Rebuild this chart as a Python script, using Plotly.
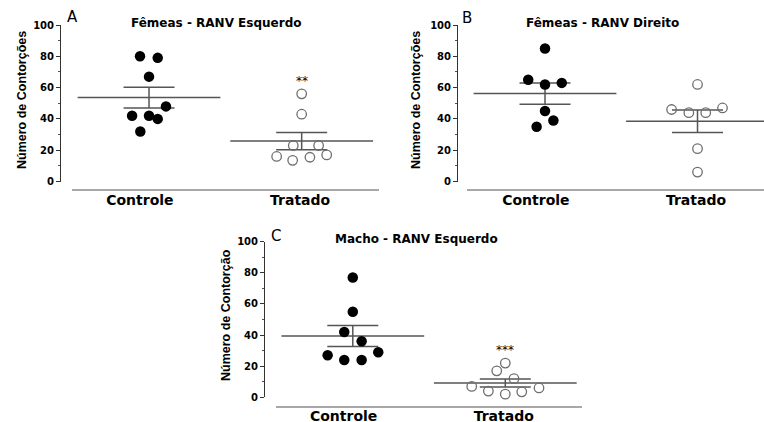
import plotly.graph_objects as go

W, H = 764, 422

categories = ["Controle", "Tratado"]
panel_titles = ["Fêmeas - RANV Esquerdo", "Fêmeas - RANV Direito", "Macho - RANV Esquerdo"]
panel_letters = ["A", "B", "C"]
y_titles = ["Número de Contorções", "Número de Contorções", "Número de Contorção"]
y_ticks = [0, 20, 40, 60, 80, 100]

# Panel A
a_ctrl = [80, 79, 67, 48, 42, 42, 40, 32]
a_trat = [56, 43, 23, 23, 16, 13.5, 15.5, 17]
a_mean = [53.6, 25.8]
a_sem = [6.65, 5.45]
a_sig = ["", "**"]
# Panel B
b_ctrl = [85, 65, 62, 63, 45, 39, 35]
b_trat = [62, 46, 44, 44, 47, 21, 6]
b_mean = [56.2, 38.5]
b_sem = [6.8, 7.15]
b_sig = ["", ""]
# Panel C
c_ctrl = [77, 55, 42, 36, 29, 27, 24, 24]
c_trat = [22, 17, 12, 7, 4, 2, 3.5, 6]
c_mean = [39.4, 9.2]
c_sem = [6.75, 2.6]
c_sig = ["", "***"]

# horizontal scatter (jitter) offsets, in category units
a_ctrl_dx = [-0.059, 0.057, 0, 0.111, -0.111, 0, 0.057, -0.057]
a_trat_dx = [0, 0, -0.055, 0.111, -0.164, -0.059, 0.054, 0.164]
b_ctrl_dx = [0, -0.11, 0, 0.11, 0, 0.055, -0.055]
b_trat_dx = [0, -0.17, -0.057, 0.054, 0.164, 0, 0]
c_ctrl_dx = [0, 0, -0.056, 0.058, 0.167, -0.165, -0.056, 0.058]
c_trat_dx = [0, -0.056, 0.057, -0.22, -0.111, 0, 0.108, 0.221]

panels = [
    dict(ctrl=a_ctrl, trat=a_trat, cdx=a_ctrl_dx, tdx=a_trat_dx, mean=a_mean, sem=a_sem, sig=a_sig,
         xdom=[72, 379], xr=[0.4954, 2.5066], ypx=[181.5, 25], yax=60, base=189.5, standoff=-2,
         title=(216, 23), letter=(72, 17.5), ytitle=(22, 100)),
    dict(ctrl=b_ctrl, trat=b_trat, cdx=b_ctrl_dx, tdx=b_trat_dx, mean=b_mean, sem=b_sem, sig=b_sig,
         xdom=[467, 764], xr=[0.4885, 2.436], ypx=[181.5, 25], yax=457, base=189.5, standoff=-2,
         title=(602, 23.5), letter=(467, 18), ytitle=(416, 100)),
    dict(ctrl=c_ctrl, trat=c_trat, cdx=c_ctrl_dx, tdx=c_trat_dx, mean=c_mean, sem=c_sem, sig=c_sig,
         xdom=[276, 582], xr=[0.4964, 2.503], ypx=[397.3, 241.7], yax=264, base=406.7, standoff=-4,
         title=(416, 239.5), letter=(276, 236), ytitle=(226, 315)),
]

LINE = "#555555"
fig = go.Figure()
annotations = []
layout = {}

for i, p in enumerate(panels):
    n = "" if i == 0 else str(i + 1)
    xa, ya = "x" + n, "y" + n
    # mean + SEM
    fig.add_trace(go.Scatter(
        x=[1, 2], y=p["mean"], xaxis=xa, yaxis=ya, mode="markers",
        marker=dict(symbol="line-ew", size=102, color=LINE, line=dict(width=1.5, color=LINE)),
        error_y=dict(type="data", array=p["sem"], visible=True, width=25.5, thickness=1.5, color=LINE),
        cliponaxis=False, hoverinfo="skip"))
    # controle points
    fig.add_trace(go.Scatter(
        x=[1 + d for d in p["cdx"]], y=p["ctrl"], xaxis=xa, yaxis=ya, mode="markers",
        marker=dict(symbol="circle", size=10.5, color="black", line=dict(width=0)),
        cliponaxis=False))
    # tratado points
    fig.add_trace(go.Scatter(
        x=[2 + d for d in p["tdx"]], y=p["trat"], xaxis=xa, yaxis=ya, mode="markers",
        marker=dict(symbol="circle", size=9.5, color="rgba(0,0,0,0)", line=dict(width=1.3, color="#6e6e6e")),
        cliponaxis=False))
    # significance
    groups = [p["ctrl"], p["trat"]]
    for k, s in enumerate(p["sig"]):
        if s:
            annotations.append(dict(x=k + 1, y=max(groups[k]), xref=xa, yref=ya, text=s, showarrow=False,
                                    yshift=12.6, yanchor="middle",
                                    font=dict(family="DejaVu Sans", size=12, color="black")))
    layout["xaxis" + n] = dict(
        domain=[p["xdom"][0] / W, p["xdom"][1] / W], range=p["xr"], anchor="free",
        position=1 - p["base"] / H, showline=True, linecolor="#a8a8a8", linewidth=2,
        ticks="", tickvals=[0.94, 1.99], ticktext=categories, ticklabelstandoff=p["standoff"],
        tickfont=dict(family="DejaVu Sans", size=14, color="black", weight="bold"),
        showgrid=False, zeroline=False, fixedrange=True, automargin=False)
    layout["yaxis" + n] = dict(
        domain=[1 - p["ypx"][0] / H, 1 - p["ypx"][1] / H], range=[0, 100], anchor="free",
        position=p["yax"] / W, showline=True, linecolor="#333", linewidth=1,
        tickvals=y_ticks, ticks="outside", ticklen=4, tickwidth=1, tickcolor="#333",
        minor=dict(dtick=10, ticks="outside", ticklen=2.5, tickcolor="#555", showgrid=False),
        tickfont=dict(family="DejaVu Sans", size=10, color="black", weight="bold"),
        showgrid=False, zeroline=False, fixedrange=True, automargin=False)
    annotations.append(dict(x=p["title"][0] / W, y=1 - p["title"][1] / H, xref="paper", yref="paper",
                            text=panel_titles[i], showarrow=False, xanchor="center", yanchor="middle",
                            font=dict(family="DejaVu Sans", size=12, color="black", weight="bold")))
    annotations.append(dict(x=p["letter"][0] / W, y=1 - p["letter"][1] / H, xref="paper", yref="paper",
                            text=panel_letters[i], showarrow=False, xanchor="center", yanchor="middle",
                            font=dict(family="DejaVu Sans", size=15, color="black")))
    annotations.append(dict(x=p["ytitle"][0] / W, y=1 - p["ytitle"][1] / H, xref="paper", yref="paper",
                            text=y_titles[i], showarrow=False, xanchor="center", yanchor="middle",
                            textangle=-90,
                            font=dict(family="Liberation Sans", size=12.5, color="black", weight="bold")))

fig.update_layout(width=W, height=H, margin=dict(l=0, r=0, t=0, b=0, autoexpand=False),
                  paper_bgcolor="white", plot_bgcolor="white", showlegend=False,
                  annotations=annotations, **layout)
fig.write_html("out.html", config={"displayModeBar": False},
               post_script="document.body.style.margin='0';document.body.style.overflow='hidden';")
